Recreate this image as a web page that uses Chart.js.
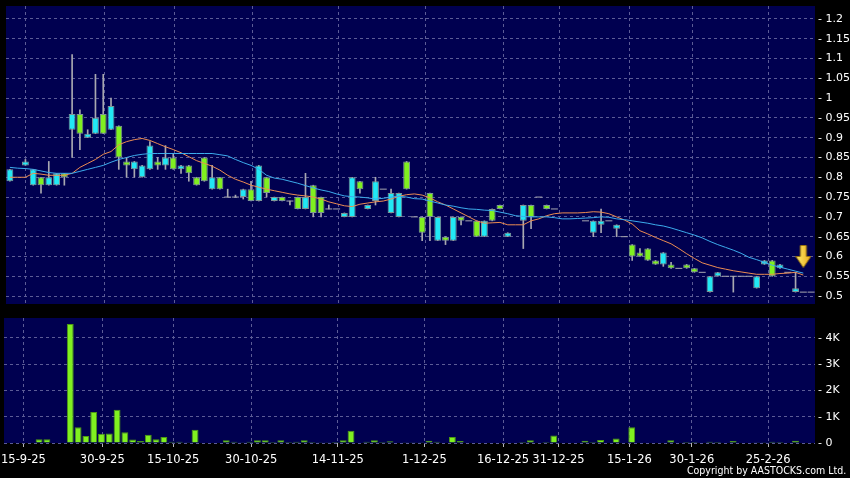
<!DOCTYPE html>
<html lang="en">
<head>
  <meta charset="UTF-8">
  <title>Price and volume chart</title>
  <script src="https://cdn.jsdelivr.net/npm/chart.js"></script>
  <style>
    body {
      margin: 0;
      background: #000;
      width: 850px;
      height: 478px;
      overflow: hidden;
      position: relative;
      font-family: "DejaVu Sans", sans-serif;
    }
    .panel { position: absolute; left: 0; }
    #priceChart { top: 0; }
    #volChart { top: 310px; }
    .copy {
      position: absolute;
      right: 4px;
      top: 464px;
      color: #fff;
      font: 11px "DejaVu Sans", sans-serif;
      white-space: nowrap;
      transform: scaleX(0.86);
      transform-origin: right center;
    }
  </style>
</head>
<body>
  <canvas id="priceChart" class="panel" width="850" height="310"></canvas>
  <canvas id="volChart" class="panel" width="850" height="168"></canvas>
  <div class="copy">Copyright by AASTOCKS.com Ltd.</div>

  <script>
    // date labels on the x axis, and where each sits in candle units
    const dateLabels = ['15-9-25', '30-9-25', '15-10-25', '30-10-25', '14-11-25', '1-12-25',
                        '16-12-25', '31-12-25', '15-1-26', '30-1-26', '25-2-26'];
    const datePos = [2, 12.1, 21.2, 31.2, 42.3, 53.4, 63.5, 70.6, 79.7, 87.7, 97.5];

    const priceTicks = [0.5, 0.55, 0.6, 0.65, 0.7, 0.75, 0.8, 0.85, 0.9, 0.95, 1, 1.05, 1.1, 1.15, 1.2];
    const volTicks = [0, 1, 2, 3, 4];

    // daily candles (null = nothing drawn that day)
    const openP = [0.79, null, 0.83, 0.78, 0.80, 0.78, 0.78, 0.81, 0.92, 0.96,
                   0.90, 0.91, 0.96, 0.92, 0.93, 0.84, 0.82, 0.80, 0.82, 0.84,
                   0.83, 0.85, 0.82, 0.83, 0.80, 0.85, 0.77, 0.80, 0.75, 0.75,
                   0.75, 0.77, 0.74, 0.80, 0.74, 0.75, 0.74, 0.75, 0.72, 0.78,
                   0.75, 0.72, 0.72, 0.70, 0.70, 0.79, 0.72, 0.74, 0.77, 0.71,
                   0.70, 0.84, 0.70, 0.70, 0.76, 0.64, 0.65, 0.64, 0.70, 0.69,
                   0.69, 0.65, 0.72, 0.73, 0.65, null, 0.69, 0.73, 0.75, 0.73,
                   0.72, null, null, null, 0.69, 0.66, 0.68, 0.69, 0.67, 0.65,
                   0.63, 0.61, 0.62, 0.59, 0.58, 0.58, 0.57, 0.58, 0.57, 0.56,
                   0.51, 0.55, 0.55, 0.55, 0.55, 0.55, 0.52, 0.58, 0.59, 0.57,
                   0.56, 0.51, 0.51, 0.51];
    const highP = [0.82, null, 0.845, 0.82, 0.80, 0.84, 0.81, 0.81, 1.11, 0.97,
                   0.92, 1.06, 1.06, 1.00, 0.93, 0.85, 0.84, 0.83, 0.89, 0.85,
                   0.88, 0.86, 0.83, 0.83, 0.80, 0.85, 0.83, 0.80, 0.77, 0.755,
                   0.77, 0.79, 0.83, 0.80, 0.75, 0.75, 0.74, 0.75, 0.81, 0.78,
                   0.75, 0.73, 0.72, 0.71, 0.80, 0.79, 0.73, 0.80, 0.77, 0.77,
                   0.76, 0.84, 0.70, 0.70, 0.76, 0.70, 0.65, 0.70, 0.70, 0.69,
                   0.69, 0.69, 0.72, 0.73, 0.66, null, 0.73, 0.73, 0.75, 0.73,
                   0.72, null, null, null, 0.69, 0.69, 0.72, 0.69, 0.68, 0.65,
                   0.63, 0.62, 0.62, 0.59, 0.61, 0.585, 0.57, 0.58, 0.57, 0.56,
                   0.55, 0.56, 0.55, 0.55, 0.55, 0.55, 0.55, 0.59, 0.59, 0.58,
                   0.56, 0.56, 0.51, 0.51];
    const lowP = [0.79, null, 0.83, 0.78, 0.76, 0.78, 0.78, 0.78, 0.85, 0.87,
                  0.90, 0.91, 0.91, 0.92, 0.82, 0.80, 0.80, 0.80, 0.82, 0.82,
                  0.82, 0.82, 0.81, 0.79, 0.78, 0.79, 0.77, 0.77, 0.75, 0.75,
                  0.745, 0.74, 0.74, 0.75, 0.74, 0.74, 0.73, 0.72, 0.72, 0.70,
                  0.70, 0.72, 0.72, 0.70, 0.70, 0.76, 0.72, 0.73, 0.77, 0.71,
                  0.70, 0.77, 0.70, 0.64, 0.64, 0.64, 0.63, 0.64, 0.68, 0.69,
                  0.65, 0.65, 0.69, 0.72, 0.65, null, 0.62, 0.67, 0.75, 0.72,
                  0.72, null, null, null, 0.69, 0.65, 0.66, 0.69, 0.65, 0.65,
                  0.59, 0.60, 0.59, 0.58, 0.575, 0.57, 0.57, 0.57, 0.56, 0.56,
                  0.51, 0.55, 0.55, 0.51, 0.55, 0.55, 0.52, 0.58, 0.55, 0.57,
                  0.56, 0.51, 0.51, 0.51];
    const closeP = [0.82, null, 0.84, 0.82, 0.78, 0.80, 0.81, 0.80, 0.96, 0.91,
                    0.91, 0.95, 0.91, 0.98, 0.85, 0.83, 0.84, 0.83, 0.88, 0.83,
                    0.85, 0.82, 0.83, 0.81, 0.78, 0.79, 0.80, 0.77, 0.75, 0.75,
                    0.77, 0.74, 0.83, 0.76, 0.75, 0.74, 0.74, 0.72, 0.75, 0.71,
                    0.71, 0.72, 0.72, 0.71, 0.80, 0.77, 0.73, 0.79, 0.77, 0.76,
                    0.76, 0.77, 0.70, 0.66, 0.70, 0.70, 0.64, 0.70, 0.69, 0.69,
                    0.65, 0.69, 0.69, 0.72, 0.66, null, 0.73, 0.70, 0.75, 0.72,
                    0.72, null, null, null, 0.69, 0.69, 0.69, 0.69, 0.68, 0.65,
                    0.60, 0.60, 0.59, 0.58, 0.61, 0.57, 0.57, 0.57, 0.56, 0.56,
                    0.55, 0.56, 0.55, 0.55, 0.55, 0.55, 0.55, 0.59, 0.55, 0.58,
                    0.56, 0.52, 0.51, 0.51];

    // moving averages
    const maShort = [0.80, 0.80, 0.80, 0.81, 0.808, 0.805, 0.805, 0.805, 0.81, 0.825,
                     0.835, 0.845, 0.858, 0.865, 0.882, 0.89, 0.895, 0.898, 0.893, 0.885,
                     0.877, 0.87, 0.862, 0.852, 0.842, 0.835, 0.828, 0.818, 0.805, 0.795,
                     0.788, 0.78, 0.775, 0.77, 0.766, 0.762, 0.758, 0.755, 0.753, 0.75,
                     0.745, 0.738, 0.733, 0.728, 0.726, 0.732, 0.735, 0.738, 0.74, 0.745,
                     0.752, 0.756, 0.758, 0.755, 0.748, 0.738, 0.73, 0.72, 0.71, 0.70,
                     0.69, 0.684, 0.685, 0.686, 0.68, 0.68, 0.68, 0.69, 0.695, 0.703,
                     0.708, 0.71, 0.71, 0.71, 0.711, 0.713, 0.712, 0.708, 0.70, 0.692,
                     0.682, 0.665, 0.657, 0.648, 0.64, 0.632, 0.62, 0.607, 0.595, 0.584,
                     0.578, 0.572, 0.568, 0.564, 0.561, 0.558, 0.555, 0.555, 0.555, 0.557,
                     0.558, 0.56, 0.553];
    const maLong = [0.825, 0.823, 0.822, 0.82, 0.816, 0.812, 0.81, 0.81, 0.81, 0.815,
                    0.82, 0.825, 0.83, 0.838, 0.845, 0.85, 0.855, 0.858, 0.86, 0.86,
                    0.86, 0.86, 0.86, 0.86, 0.86, 0.86, 0.86, 0.857, 0.854, 0.845,
                    0.837, 0.83, 0.82, 0.805, 0.798, 0.795, 0.79, 0.785, 0.779, 0.773,
                    0.768, 0.764, 0.758, 0.753, 0.751, 0.75, 0.748, 0.745, 0.747, 0.75,
                    0.752, 0.75, 0.746, 0.745, 0.74, 0.735, 0.73, 0.727, 0.723, 0.72,
                    0.719, 0.717, 0.716, 0.712, 0.708, 0.703, 0.701, 0.70, 0.70, 0.70,
                    0.698, 0.695, 0.695, 0.696, 0.697, 0.698, 0.70, 0.699, 0.695, 0.693,
                    0.69, 0.687, 0.684, 0.68, 0.677, 0.672, 0.666, 0.66, 0.654, 0.647,
                    0.638, 0.63, 0.623, 0.616, 0.608, 0.598, 0.592, 0.585, 0.578, 0.573,
                    0.568, 0.563, 0.558];

    // volume in thousands
    const volumeK = [0.02, 0, 0.02, 0, 0.14, 0.14, 0, 0, 4.53, 0.6,
                     0.27, 1.18, 0.35, 0.36, 1.27, 0.41, 0.13, 0.08, 0.31, 0.14,
                     0.23, 0.05, 0.05, 0.03, 0.5, 0, 0, 0, 0.1, 0.05,
                     0.03, 0.05, 0.1, 0.1, 0.04, 0.1, 0.04, 0.05, 0.1, 0.04,
                     0.03, 0.03, 0.04, 0.1, 0.47, 0, 0.05, 0.1, 0.04, 0.07,
                     0, 0.03, 0.03, 0.03, 0.09, 0.05, 0, 0.23, 0.08, 0,
                     0, 0, 0, 0, 0, 0, 0.04, 0.1, 0, 0.04,
                     0.29, 0, 0, 0, 0.09, 0.04, 0.11, 0, 0.17, 0,
                     0.6, 0, 0, 0, 0, 0.1, 0, 0.04, 0.04, 0,
                     0.05, 0.04, 0, 0.08, 0, 0, 0.03, 0.03, 0.05, 0.04,
                     0, 0.09, 0, 0];

    // yellow marker above the last candles
    const markerIndex = 102;
    const markerPrice = 0.60;

    const navy = '#000050';
    const gridColor = '#5c5c96';
    const upColor = '#22e8f4';
    const downColor = '#80f020';
    const wickColor = '#a8a8b0';

    const categories = openP.map((_, i) => String(i));

    const bodies = openP.map((o, i) => (o === null || o === closeP[i]) ? null : [o, closeP[i]]);
    const bodyColors = openP.map((o, i) => closeP[i] > o ? upColor : downColor);
    const wicks = openP.map((o, i) => (o === null || highP[i] === lowP[i]) ? null : [lowP[i], highP[i]]);
    const flats = openP.map((o, i) => (o !== null && o === closeP[i]) ? o : null);
    const marker = openP.map((_, i) => i === markerIndex ? markerPrice : null);

    function makeArrow() {
      const c = document.createElement('canvas');
      c.width = 16;
      c.height = 23;
      const g = c.getContext('2d');
      const grad = g.createLinearGradient(0, 0, 16, 0);
      grad.addColorStop(0, '#fff070');
      grad.addColorStop(1, '#e8a818');
      g.fillStyle = grad;
      g.strokeStyle = '#9a7410';
      g.lineWidth = 1;
      g.beginPath();
      g.moveTo(5, 0.5);
      g.lineTo(11, 0.5);
      g.lineTo(11, 11.5);
      g.lineTo(15.5, 11.5);
      g.lineTo(8, 22.5);
      g.lineTo(0.5, 11.5);
      g.lineTo(5, 11.5);
      g.closePath();
      g.fill();
      g.stroke();
      return c;
    }

    const plotBg = {
      id: 'plotBg',
      beforeDraw(chart) {
        const { ctx, chartArea: a } = chart;
        ctx.save();
        ctx.fillStyle = navy;
        ctx.fillRect(a.left, a.top, a.right - a.left, a.bottom - a.top);
        ctx.restore();
      }
    };

    function xScale(showLabels) {
      return {
        offset: true,
        grid: {
          offset: false,
          color: gridColor,
          drawTicks: showLabels,
          tickLength: 4,
          tickColor: '#b8b8b8'
        },
        border: { display: false, dash: [3, 3] },
        ticks: {
          display: showLabels,
          autoSkip: false,
          maxRotation: 0,
          color: '#ffffff',
          font: { family: 'DejaVu Sans', size: 11.5 },
          padding: 6,
          callback: (v, i) => dateLabels[i]
        },
        afterBuildTicks: s => { s.ticks = datePos.map(p => ({ value: p })); },
        afterFit: s => {
          s.height = showLabels ? 35 : 0;
          s.paddingLeft = 0;
          s.paddingRight = 0;
        }
      };
    }

    function yScale(min, max, tickVals, fmt) {
      return {
        position: 'right',
        min: min,
        max: max,
        grid: { color: gridColor, drawTicks: false },
        border: { display: false, dash: [3, 3] },
        ticks: {
          color: '#ffffff',
          font: { family: 'DejaVu Sans', size: 11 },
          padding: 3,
          callback: v => '- ' + fmt(v)
        },
        afterBuildTicks: s => { s.ticks = tickVals.map(v => ({ value: v })); },
        afterFit: s => {
          s.width = 35;
          s.paddingTop = 0;
          s.paddingBottom = 0;
        }
      };
    }

    const common = {
      responsive: false,
      animation: false,
      events: [],
      plugins: { legend: { display: false }, tooltip: { enabled: false } }
    };

    new Chart(document.getElementById('priceChart'), {
      type: 'bar',
      data: {
        labels: categories,
        datasets: [
          {
            type: 'line',
            data: marker,
            showLine: false,
            pointStyle: makeArrow(),
            pointRadius: 5,
            order: -1
          },
          {
            type: 'line',
            data: maLong,
            borderColor: '#3cacec',
            borderWidth: 1,
            pointRadius: 0,
            order: 0
          },
          {
            type: 'line',
            data: maShort,
            borderColor: '#ec8c52',
            borderWidth: 1,
            pointRadius: 0,
            order: 0
          },
          {
            type: 'line',
            data: flats,
            showLine: false,
            pointStyle: 'line',
            pointRadius: 3.5,
            pointBorderColor: wickColor,
            pointBorderWidth: 1,
            order: 1
          },
          {
            data: bodies,
            backgroundColor: bodyColors,
            borderColor: '#7e9696',
            borderWidth: 1,
            borderSkipped: false,
            grouped: false,
            categoryPercentage: 1,
            barPercentage: 0.88,
            order: 2
          },
          {
            data: wicks,
            backgroundColor: wickColor,
            barThickness: 1,
            grouped: false,
            order: 3
          }
        ]
      },
      options: {
        ...common,
        layout: { padding: { left: 4, top: 5, right: 0, bottom: 4 } },
        scales: {
          x: xScale(false),
          y: yScale(0.48, 1.2325, priceTicks, v => String(v))
        }
      },
      plugins: [plotBg]
    });

    new Chart(document.getElementById('volChart'), {
      type: 'bar',
      data: {
        labels: categories,
        datasets: [{
          data: volumeK,
          backgroundColor: '#80f020',
          borderColor: '#4e9a12',
          borderWidth: 1,
          categoryPercentage: 1,
          barPercentage: 0.88
        }]
      },
      options: {
        ...common,
        layout: { padding: { left: 4, top: 8, right: 0, bottom: 0 } },
        scales: {
          x: xScale(true),
          y: yScale(0, 4.76, volTicks, v => v === 0 ? '0' : v + 'K')
        }
      },
      plugins: [plotBg]
    });
  </script>
</body>
</html>
